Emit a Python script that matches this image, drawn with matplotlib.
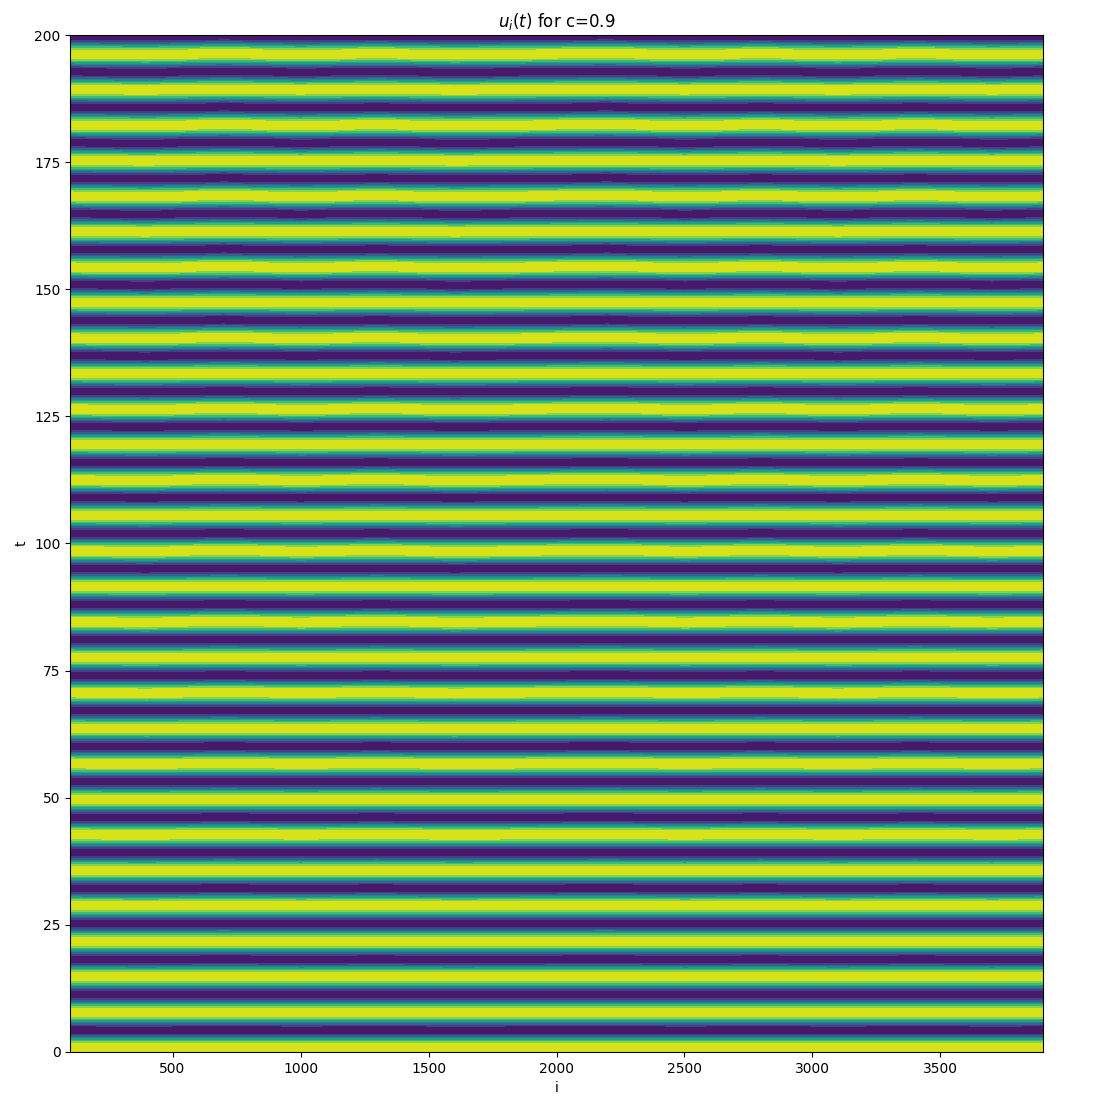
import numpy as np
import matplotlib
matplotlib.use('Agg')
import matplotlib.pyplot as plt

c_value = 0.9
i_start, i_stop = 100, 3900
t_start, t_stop = 0, 200

# centres of the dark bands (minima of u)
trough_t = [4.3, 11.3, 18.3, 25.2, 32.2, 39.2, 46.2, 53.2, 60.1, 67.1,
            74.1, 81.1, 88.1, 95.0, 102.0, 109.0, 116.0, 123.0, 129.9, 136.9,
            143.9, 150.9, 157.9, 164.8, 171.8, 178.8, 185.8, 192.8, 199.7]

# slight waviness of the bands along i (shift in t near the top)
wobble_i = [100, 400, 700, 1000, 1300, 1600, 1900, 2200, 2500, 2800, 3100, 3400, 3700, 3900]
wobble_dt = [0.0, 0.1, -0.1, 0.08, -0.08, 0.1, 0.0, -0.1, 0.08, -0.08, 0.1, -0.08, 0.08, 0.0]

i_vals = np.arange(i_start, i_stop + 1, 5)
t_vals = np.linspace(t_start, t_stop, 1601)

k = np.arange(len(trough_t))
phase_at_trough = np.pi + 2 * np.pi * k
slope, offset = np.polyfit(trough_t, phase_at_trough, 1)

I, T = np.meshgrid(i_vals, t_vals)
shift = np.interp(i_vals, wobble_i, wobble_dt)[None, :] * (T / t_stop)
U = np.cos(slope * (T + shift) + offset)

fig = plt.figure(figsize=(11.13, 11.12), dpi=100)
ax = fig.add_axes([0.063, 0.054, 0.874, 0.9145])
ax.contourf(I, T, U, cmap='viridis')
ax.set_xlim(i_start, i_stop)
ax.set_ylim(t_start, t_stop)
ax.set_xticks([500, 1000, 1500, 2000, 2500, 3000, 3500])
ax.set_xlabel('i')
ax.set_ylabel('t')
ax.set_title(r'$u_i(t)$ for c=' + str(c_value))

fig.savefig('out.png', dpi=100)
